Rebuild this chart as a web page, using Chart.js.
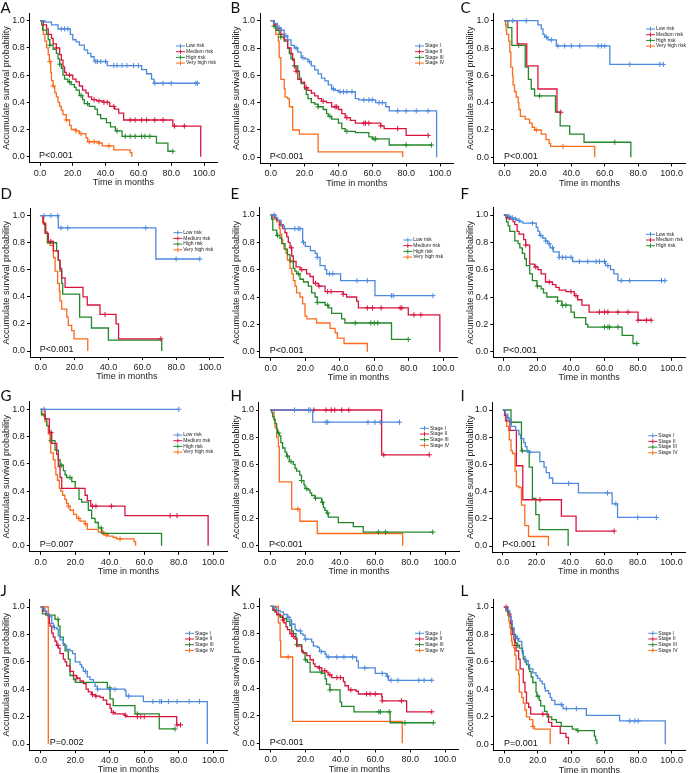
<!DOCTYPE html>
<html lang="en">
<head>
<meta charset="UTF-8">
<title>Kaplan-Meier survival curves</title>
<script src="https://cdn.jsdelivr.net/npm/chart.js@4"></script>
<style>
  body { margin: 0; background: #fff; }
  #wrap { position: relative; width: 690px; height: 773px; overflow: hidden; }
  #wrap canvas { position: absolute; left: 0; top: 0; }
</style>
</head>
<body>
<div id="wrap"></div>
<script>
// ticks shared by every panel
const timeTicks = [0, 20, 40, 60, 80, 100];
const survTicks = [0, 0.2, 0.4, 0.6, 0.8, 1.0];
const riskNames = ['Low risk', 'Medium risk', 'High risk', 'Very high risk'];
const stageNames = ['Stage I', 'Stage II', 'Stage III', 'Stage IV'];
const colors = ['#4d8ade', '#d8153f', '#23882a', '#fb6b1c'];

// each curve: [month, survival] step points, then censored months
const aLow = [[0,1],[3,0.99],[7,0.97],[11,0.94],[18.5,0.9],[20,0.86],[22,0.845],[24,0.82],[27,0.785],[29,0.76],[31,0.735],[33,0.70],[41,0.67],[62,0.64],[65,0.61],[68,0.57],[69.5,0.54],[97,0.54]];
const aLowCens = [13,15,17,34,35,37,40,45,47,50,53,57,60,70,75,80,95,96];
const aMed = [[0,1],[2,0.97],[4,0.94],[5,0.9],[7,0.87],[8,0.83],[10,0.80],[12,0.75],[13,0.71],[14,0.66],[15,0.62],[16,0.6],[20,0.57],[22,0.55],[24,0.52],[26,0.49],[28,0.47],[29.5,0.44],[31.5,0.42],[34.5,0.41],[38.5,0.40],[42.5,0.37],[45.5,0.35],[48,0.32],[51,0.27],[81,0.225],[98,0]];
const aMedCens = [10,18,33,36,39,41,45,55,58,62,65,70,75,82,88];
const aHigh = [[0,1],[1,0.97],[1.6,0.93],[4,0.9],[5,0.86],[6,0.82],[8,0.79],[10,0.76],[11,0.72],[12,0.68],[13,0.65],[14,0.60],[15,0.57],[17,0.55],[19,0.53],[21,0.51],[22,0.49],[24,0.45],[26,0.42],[27,0.39],[30,0.37],[33.5,0.35],[35,0.31],[37,0.28],[40.5,0.25],[43,0.22],[46,0.19],[50,0.15],[71,0.1],[78,0.04],[81,0.04]];
const aHighCens = [6,12,18,25,29,47,52,55,58,62,64,67,81];
const aVery = [[0,1],[1,0.97],[2,0.9],[3,0.85],[4,0.8],[5,0.75],[5.7,0.7],[6.5,0.62],[7,0.56],[8,0.52],[9,0.47],[10,0.44],[11,0.40],[12,0.37],[13,0.34],[14,0.31],[16,0.27],[18,0.23],[19,0.2],[22,0.19],[24,0.17],[28,0.14],[29,0.11],[36,0.1],[38,0.08],[45,0.05],[55,0.03],[56,0]];
const aVeryCens = [6,8,16,22,25,30,33,36,42];

const bI = [[0,1],[2,0.98],[4,0.95],[6,0.93],[8,0.89],[10,0.86],[12,0.82],[14,0.8],[16,0.77],[18,0.73],[20,0.72],[22,0.70],[24,0.67],[26,0.64],[28,0.61],[30,0.58],[32,0.56],[34,0.53],[36,0.5],[38,0.49],[40,0.48],[50,0.43],[52,0.42],[62,0.40],[68,0.37],[70,0.34],[98,0]];
const bICens = [5,9,15,19,23,37,41,43,45,48,55,58,60,64,66,75,80,86,93];
const bII = [[0,1],[2,0.97],[4,0.94],[6,0.9],[8,0.86],[10,0.8],[12,0.76],[13,0.71],[14,0.66],[15,0.63],[16,0.57],[18,0.55],[20,0.51],[22,0.49],[24,0.47],[26,0.45],[28,0.43],[30,0.41],[33,0.40],[36,0.37],[40,0.35],[42,0.32],[44,0.29],[47,0.27],[50,0.25],[65,0.23],[67,0.21],[80,0.16],[93,0.16]];
const bIICens = [15,21,31,38,39,45,55,56,58,65,75,93];
const bIII = [[0,1],[2,0.96],[3,0.93],[5,0.9],[6,0.88],[8,0.85],[10,0.80],[11,0.76],[12,0.72],[14,0.67],[16,0.63],[17,0.58],[18,0.54],[20,0.5],[21,0.46],[22,0.43],[24,0.40],[26,0.39],[28,0.37],[31,0.35],[33,0.32],[34,0.30],[36,0.28],[40,0.25],[42,0.21],[44,0.19],[50,0.18],[58,0.15],[60,0.135],[70,0.09],[95,0.09]];
const bIIICens = [2,6,14,28,35,45,61,62,80,95];
const bIV = [[0,1],[2,0.96],[3,0.9],[4.5,0.85],[5,0.73],[6,0.57],[8,0.5],[8.5,0.44],[10,0.43],[11,0.37],[13,0.2],[17,0.17],[28,0.04],[78,0]];
const bIVCens = [];

const cLow = [[0,1],[20,0.97],[22,0.94],[23,0.9],[24,0.88],[26,0.86],[31,0.815],[63,0.68],[95,0.68]];
const cLowCens = [5,13,25,28,32,36,40,45,56,58,60,75,93,95];
const cMed = [[0,1],[7.6,0.83],[13.3,0.67],[20,0.5],[31.4,0.33],[33.7,0.33]];
const cMedCens = [33.7];
const cHigh = [[0,1],[2,0.95],[4.4,0.82],[12.4,0.66],[14.3,0.57],[16,0.5],[18,0.45],[30.5,0.33],[33.3,0.23],[39,0.17],[47.6,0.11],[75.6,0]];
const cHighCens = [8.5,21,66];
const cVery = [[0,1],[0.6,0.97],[1,0.93],[1.3,0.9],[2.5,0.85],[3.2,0.77],[3.8,0.66],[4.8,0.6],[5.1,0.53],[6,0.48],[7,0.44],[8.2,0.40],[8.6,0.35],[9.5,0.3],[12.4,0.28],[15,0.25],[16.6,0.22],[18,0.2],[22,0.17],[24.8,0.13],[26.7,0.1],[27.6,0.08],[54,0]];
const cVeryCens = [19,35];

const dLow = [[0,1],[10.4,0.91],[68,0.68],[94,0.68]];
const dLowCens = [2,6,10,12,16,62,80,94];
const dMed = [[0,1],[1.6,0.94],[3,0.87],[4.5,0.81],[7.5,0.74],[10.4,0.67],[11.4,0.61],[12.4,0.54],[14.4,0.47],[25,0.40],[27.5,0.34],[35,0.27],[44.5,0.20],[46,0.09],[71,0.09]];
const dMedCens = [6,38,71];
const dHigh = [[0,1],[1.6,0.94],[2.6,0.87],[4,0.8],[9.4,0.74],[10.4,0.67],[11.4,0.59],[12.4,0.5],[13,0.42],[23,0.25],[30,0.17],[40,0.08],[71.5,0]];
const dHighCens = [];
const dVery = [[0,1],[1.2,0.95],[2.6,0.88],[4,0.8],[5.5,0.78],[7.5,0.69],[8.5,0.59],[10,0.5],[11,0.44],[11.4,0.37],[12.4,0.31],[15.4,0.25],[16.3,0.19],[18.3,0.15],[19.7,0.09],[27.8,0]];
const dVeryCens = [];

const eLow = [[0,1],[3,0.98],[4,0.96],[6,0.92],[8,0.9],[18.5,0.8],[20,0.77],[23,0.74],[25.7,0.72],[27,0.69],[28.6,0.63],[31.5,0.6],[32.4,0.57],[40.5,0.52],[60.4,0.41],[94,0.41]];
const eLowCens = [2,14,16,17,19,27,34,36,50,56,70,71,94];
const eMed = [[0,1],[2,0.98],[3.5,0.96],[5.4,0.93],[7,0.9],[8.3,0.87],[9.3,0.84],[10.2,0.8],[11.2,0.76],[12.2,0.7],[13.1,0.66],[14.7,0.62],[17,0.6],[20.8,0.57],[22.8,0.55],[24.7,0.5],[27.6,0.48],[31.5,0.44],[42,0.42],[44,0.4],[49.8,0.37],[50.8,0.32],[79.7,0.27],[98,0]];
const eMedCens = [6,12,18,26,28,33,35,42,56,59,64,75,76,83,87];
const eHigh = [[0,1],[0.5,0.97],[1.2,0.89],[3.5,0.85],[5.4,0.83],[6.4,0.79],[8.3,0.75],[9.7,0.71],[11.2,0.66],[13.1,0.61],[14,0.59],[15,0.57],[17,0.53],[19,0.51],[21.8,0.48],[23.7,0.43],[25.7,0.40],[27,0.36],[31.5,0.34],[33.4,0.32],[35.3,0.28],[41.1,0.24],[43,0.21],[70,0.09],[79.7,0.09]];
const eHighCens = [4,16,27,33,49,58,60,62,79.7];
const eVery = [[0,1],[1,0.97],[3.5,0.95],[5,0.9],[5.5,0.86],[6.4,0.82],[7,0.79],[7.7,0.75],[8.9,0.72],[9.7,0.67],[11.2,0.61],[12.2,0.57],[13.1,0.52],[14.1,0.48],[15,0.43],[17,0.4],[18.5,0.35],[19.9,0.26],[21,0.24],[26.6,0.21],[34.4,0.17],[37.3,0.14],[38.6,0.1],[42.5,0.06],[56,0]];
const eVeryCens = [11];

const fLow = [[0,1],[2,0.99],[4,0.98],[5.5,0.97],[7.5,0.96],[9.4,0.95],[11.4,0.94],[19.3,0.91],[20.3,0.88],[21.3,0.85],[23.2,0.83],[24.8,0.81],[26.2,0.79],[27.6,0.76],[29.5,0.73],[33,0.69],[41,0.66],[60.6,0.63],[63.6,0.6],[65.6,0.57],[68,0.52],[96,0.52]];
const fLowCens = [3,5,7,9,17,22,25,27,29,33,35,37,40,45,50,55,57,60,62,70,75,94,96];
const fMed = [[0,1],[1.6,0.98],[3.5,0.97],[5.5,0.95],[6.5,0.93],[7.9,0.88],[9,0.86],[11.8,0.82],[13,0.78],[15.4,0.64],[18.3,0.62],[20.3,0.6],[22.2,0.57],[24.8,0.51],[29,0.49],[31,0.47],[33,0.45],[37,0.44],[42,0.41],[44,0.38],[46.5,0.34],[50.8,0.29],[80,0.23],[87.8,0.23]];
const fMedCens = [3,13,19,27,40,43,57,60,62,68,74,80,85,87.8];
const fHigh = [[0,1],[1.2,0.98],[1.6,0.95],[2.5,0.92],[3.5,0.88],[6.5,0.81],[8.5,0.79],[9.5,0.76],[11,0.72],[12.4,0.68],[13.4,0.63],[15.4,0.57],[17,0.52],[19.7,0.48],[22.2,0.46],[23.6,0.43],[25.6,0.40],[32,0.37],[34.6,0.34],[40,0.29],[42,0.25],[48.8,0.2],[50,0.18],[70.5,0.12],[77,0.06],[79.3,0.06]];
const fHighCens = [20,32,35,37,60,62,63,68,79.3];

const gLow = [[0,1],[80,1]];
const gLowCens = [2,80];
const gMed = [[0,1],[2.5,0.93],[5,0.83],[6.4,0.75],[9.3,0.67],[10.2,0.58],[11.2,0.5],[12.2,0.42],[25.7,0.37],[27,0.33],[29,0.29],[48.8,0.22],[97,0]];
const gMedCens = [6,30,32,41,75,79];
const gHigh = [[0,1],[0.5,0.96],[2.5,0.93],[3.5,0.88],[5,0.83],[6,0.77],[8.3,0.70],[10.2,0.63],[11.2,0.59],[13.1,0.55],[14.1,0.52],[15,0.5],[18,0.47],[20,0.42],[22.2,0.34],[23.7,0.32],[27.6,0.26],[29.5,0.2],[31.5,0.17],[33.4,0.13],[35.3,0.09],[70,0]];
const gHighCens = [6,12,17,35];
const gVery = [[0,1],[0.5,0.97],[1.5,0.95],[2.5,0.91],[3.5,0.88],[4.4,0.82],[5.4,0.76],[5.8,0.68],[7.3,0.63],[8.3,0.57],[8.8,0.52],[9.7,0.48],[10.8,0.42],[11.6,0.40],[12.7,0.37],[14,0.34],[15,0.31],[16,0.29],[17,0.26],[19,0.23],[20.8,0.2],[22.8,0.18],[25.7,0.16],[27,0.12],[33.4,0.10],[36.3,0.08],[39,0.07],[42,0.06],[44,0.05],[54,0.03],[55,0]];
const gVeryCens = [16,22,26,36,38,46];

const hI = [[0,1],[24.4,0.91],[74,0.91]];
const hICens = [14,22,23,32,33,56,60,63,74];
const hII = [[0,1],[63.8,0.67],[91,0.67]];
const hIICens = [25,32,35,37,41,45,65,91];
const hIII = [[0,1],[1,0.98],[1.5,0.95],[2.3,0.93],[2.9,0.9],[3.8,0.86],[4.3,0.83],[5.3,0.81],[6.2,0.76],[7.2,0.72],[8.6,0.69],[9.5,0.66],[11,0.62],[13.3,0.6],[14.3,0.57],[15.2,0.55],[17,0.52],[18,0.48],[19.4,0.45],[20,0.42],[21.9,0.41],[22.9,0.39],[23.8,0.37],[25.7,0.35],[29.5,0.32],[30.5,0.28],[31.4,0.26],[32.4,0.24],[33.3,0.21],[39,0.17],[47.6,0.14],[53.3,0.1],[93,0.1]];
const hIIICens = [5,10,12,18,21,26,30,33,62,66,93];
const hIV = [[0,1],[2.3,0.93],[2.9,0.87],[3.8,0.8],[4.8,0.73],[5.3,0.47],[12.4,0.27],[17.1,0.18],[27,0.09],[75.8,0]];
const hIVCens = [16];

const iI = [[0,1],[1.5,0.97],[2.9,0.94],[3.8,0.92],[4.8,0.88],[7.6,0.85],[9.5,0.82],[10.5,0.79],[12.4,0.76],[13.3,0.73],[14.3,0.69],[21.9,0.62],[24.4,0.58],[25.7,0.54],[27.6,0.5],[29.5,0.46],[44.8,0.39],[64.8,0.31],[68,0.21],[91,0.21]];
const iICens = [3,16,39,62,67,80,91];
const iII = [[0,1],[1,0.96],[1.9,0.92],[4.2,0.85],[8,0.59],[11.8,0.34],[34.7,0.22],[43.4,0.11],[66,0.11]];
const iIICens = [22,66];
const iIII = [[0,1],[4.8,0.91],[11,0.7],[15.6,0.58],[17.5,0.35],[19.5,0.23],[21.5,0.12],[38.7,0]];
const iIIICens = [5,11.5];
const iIV = [[0,1],[1,0.96],[1.5,0.92],[2.3,0.88],[3.4,0.85],[3.8,0.78],[4.8,0.70],[5.7,0.68],[7.2,0.55],[8,0.44],[9.5,0.43],[11,0.3],[13,0.15],[15.2,0.07],[27,0]];
const iIVCens = [];

const jI = [[0,1],[1,0.99],[2.5,0.97],[3.5,0.95],[5,0.93],[6.4,0.88],[7.3,0.85],[9.3,0.84],[10.2,0.79],[11.2,0.76],[13.1,0.72],[15,0.69],[17,0.68],[18.5,0.66],[20,0.6],[22.8,0.58],[23.7,0.56],[24.7,0.53],[27,0.49],[28.6,0.47],[30.5,0.45],[31.5,0.42],[32.8,0.4],[48.8,0.39],[49.4,0.35],[59.5,0.31],[96.5,0]];
const jICens = [8,26,33,40,43,51,65,69,70,74,79,86,92];
const jII = [[0,1],[1.5,0.97],[3,0.95],[4.4,0.93],[5,0.88],[5.4,0.86],[6.4,0.81],[7.3,0.78],[8.3,0.75],[9.3,0.72],[10.2,0.7],[11.2,0.66],[13.1,0.62],[14.1,0.6],[15,0.57],[17,0.53],[19,0.5],[20.8,0.48],[22.8,0.46],[24.7,0.44],[26.3,0.4],[27.6,0.38],[29.5,0.36],[31.5,0.35],[34.4,0.34],[36.3,0.32],[38.2,0.29],[40.2,0.26],[41,0.23],[43,0.22],[48.8,0.21],[49.4,0.2],[78.8,0.14],[81,0.14]];
const jIICens = [10,21,30,32,42,49,56,58,60,79,81];
const jIII = [[0,1],[1,0.95],[3,0.94],[8.3,0.91],[10.2,0.86],[11.2,0.78],[13.1,0.73],[14.1,0.68],[16,0.62],[17,0.5],[19,0.47],[20,0.45],[38.6,0.41],[40.2,0.33],[42,0.28],[54.6,0.22],[68.7,0.11],[77.8,0.11]];
const jIIICens = [10,40,56,77.8];
const jIV = [[0,1],[4.4,0]];
const jIVCens = [];

const kI = [[0,1],[1.5,0.99],[3.4,0.97],[5.4,0.96],[7.3,0.94],[9.6,0.92],[11,0.9],[12,0.87],[14,0.83],[15,0.82],[17.2,0.8],[18.4,0.79],[19.7,0.76],[23.5,0.74],[24.5,0.71],[26.8,0.7],[28,0.67],[31.2,0.65],[32,0.63],[49.3,0.6],[50.3,0.55],[60,0.51],[66.5,0.49],[67.5,0.46],[92.4,0.46]];
const kICens = [10,12,17,20,29,33,38,42,47,54,64,67,69,73,85,88,92.4];
const kII = [[0,1],[1.5,0.98],[2.5,0.96],[3.4,0.94],[5.4,0.93],[6.9,0.9],[7.6,0.88],[8.8,0.85],[9.6,0.83],[11,0.8],[13,0.78],[14,0.76],[15,0.71],[17.8,0.67],[18.7,0.66],[20.7,0.64],[22.6,0.61],[24.5,0.58],[25.4,0.56],[27.3,0.55],[29.3,0.53],[32,0.52],[33,0.5],[35,0.48],[41.7,0.45],[42.6,0.42],[44.6,0.39],[49,0.38],[50.3,0.36],[63.7,0.34],[64,0.31],[78,0.23],[92.4,0.23]];
const kIICens = [7,12,13,28,31,34,38,40,46,55,57,60,64,75,92.4];
const kIII = [[0,1],[1.2,0.97],[2.5,0.96],[3.4,0.94],[5.4,0.92],[7.3,0.91],[9.2,0.89],[11,0.86],[12,0.82],[13,0.8],[14.5,0.77],[15,0.72],[17.8,0.68],[18.4,0.66],[19.7,0.61],[21,0.59],[22.6,0.52],[29.3,0.51],[31.2,0.47],[32,0.43],[34,0.39],[39.8,0.3],[40.7,0.27],[47.8,0.23],[68.5,0.15],[93.3,0.15]];
const kIIICens = [15,20,29,34,62,63,68,77,93.3];
const kIV = [[0,1],[4.4,0.88],[5.4,0.75],[5.7,0.63],[12.6,0.16],[75.5,0]];
const kIVCens = [10];

const lI = [[0,1],[1,0.98],[2.5,0.97],[3.2,0.93],[3.8,0.9],[4.7,0.85],[5.7,0.79],[7.5,0.77],[8.5,0.75],[10.4,0.68],[11.3,0.64],[12.3,0.61],[14.2,0.58],[15.1,0.55],[17,0.52],[18.9,0.5],[19.8,0.48],[21.3,0.46],[22.6,0.44],[24,0.41],[24.5,0.39],[26.4,0.37],[27.4,0.34],[28.3,0.32],[30.2,0.29],[35,0.26],[49,0.21],[68.9,0.17],[96.2,0]];
const lICens = [8,13,34,37,43,75,78,80];
const lII = [[0,1],[1.9,0.97],[2.8,0.95],[3.8,0.88],[4.7,0.8],[5.7,0.76],[6.2,0.72],[7,0.68],[8.5,0.62],[9.4,0.55],[11.3,0.45],[12.3,0.38],[13.2,0.3],[14.5,0.27],[15.7,0.22],[26.4,0.16],[28.3,0.13],[33.4,0.08],[36.8,0.05],[38.3,0]];
const lIICens = [1,23];
const lIII = [[0,1],[1,0.98],[1.9,0.96],[2.8,0.93],[3.8,0.88],[4.3,0.84],[5.7,0.8],[6.6,0.74],[7.5,0.72],[8.9,0.7],[10.8,0.66],[11.3,0.62],[12.3,0.6],[13.2,0.58],[14.5,0.55],[15.1,0.53],[16,0.49],[17,0.45],[18.9,0.38],[19.4,0.35],[20.8,0.32],[21.7,0.28],[24,0.24],[25.5,0.2],[28.3,0.18],[31.1,0.16],[34,0.13],[40.6,0.11],[43.4,0.1],[53.8,0.06],[54.5,0.03],[55.3,0]];
const lIIICens = [8,20,44];
const lIV = [[0,1],[1,0.97],[2,0.94],[2.6,0.9],[3.2,0.85],[3.8,0.8],[4.3,0.75],[4.7,0.72],[5.7,0.7],[6.2,0.65],[7,0.54],[8.5,0.51],[8.9,0.38],[10.4,0.34],[11.3,0.3],[12.3,0.25],[13.2,0.2],[15.1,0.18],[17,0.13],[17.9,0.11],[27.4,0]];
const lIVCens = [17];

// panel layout: page pixel of month 0 / 100 and survival 1 / 0, legend corner, y title x
const panels = [
  { id: 'A', names: riskNames, p: 'P<0.001', curves: [[aLow, aLowCens], [aMed, aMedCens], [aHigh, aHighCens], [aVery, aVeryCens]], x0: 40, x100: 204, y1: 20.7, y0: 156.7, lx: 176, ly: 46, ty: 13 },
  { id: 'B', names: stageNames, p: 'P<0.001', curves: [[bI, bICens], [bII, bIICens], [bIII, bIIICens], [bIV, bIVCens]], x0: 270.7, x100: 440, y1: 20.7, y0: 157.3, lx: 415, ly: 46, ty: 13 },
  { id: 'C', names: riskNames, p: 'P<0.001', curves: [[cLow, cLowCens], [cMed, cMedCens], [cHigh, cHighCens], [cVery, cVeryCens]], x0: 505, x100: 680, y1: 20.7, y0: 157.3, lx: 646, ly: 29, ty: 13 },
  { id: 'D', names: riskNames, p: 'P<0.001', curves: [[dLow, dLowCens], [dMed, dMedCens], [dHigh, dHighCens], [dVery, dVeryCens]], x0: 40.7, x100: 210, y1: 215.7, y0: 351, lx: 173.3, ly: 232.7, ty: 198.5 },
  { id: 'E', names: riskNames, p: 'P<0.001', curves: [[eLow, eLowCens], [eMed, eMedCens], [eHigh, eHighCens], [eVery, eVeryCens]], x0: 270.7, x100: 443.3, y1: 215, y0: 351.7, lx: 403.3, ly: 240, ty: 198.5 },
  { id: 'F', names: riskNames.slice(0, 3), p: 'P<0.001', curves: [[fLow, fLowCens], [fMed, fMedCens], [fHigh, fHighCens]], x0: 504, x100: 673.3, y1: 215, y0: 351.7, lx: 646, ly: 234.3, ty: 198.5 },
  { id: 'G', names: riskNames, p: 'P=0.007', curves: [[gLow, gLowCens], [gMed, gMedCens], [gHigh, gHighCens], [gVery, gVeryCens]], x0: 40.7, x100: 213.3, y1: 409.3, y0: 545.7, lx: 173.3, ly: 435, ty: 401 },
  { id: 'H', names: stageNames, p: 'P<0.001', curves: [[hI, hICens], [hII, hIICens], [hIII, hIIICens], [hIV, hIVCens]], x0: 270, x100: 445, y1: 410, y0: 545.7, lx: 420, ly: 428.3, ty: 401 },
  { id: 'I', names: stageNames, p: 'P<0.001', curves: [[iI, iICens], [iII, iIICens], [iIII, iIIICens], [iIV, iIVCens]], x0: 503.3, x100: 678.3, y1: 410, y0: 546, lx: 648.3, ly: 435.7, ty: 401 },
  { id: 'J', names: stageNames, p: 'P=0.002', curves: [[jI, jICens], [jII, jIICens], [jIII, jIIICens], [jIV, jIVCens]], x0: 40.7, x100: 213.3, y1: 607, y0: 744, lx: 185, ly: 633.3, ty: 596, pShift: 10 },
  { id: 'K', names: stageNames, p: 'P<0.001', curves: [[kI, kICens], [kII, kIICens], [kIII, kIIICens], [kIV, kIVCens]], x0: 270.7, x100: 445, y1: 606.3, y0: 743.3, lx: 415, ly: 633.3, ty: 596 },
  { id: 'L', names: stageNames, p: 'P=0.001', curves: [[lI, lICens], [lII, lIICens], [lIII, lIIICens], [lIV, lIVCens]], x0: 505, x100: 681.7, y1: 607, y0: 744.3, lx: 648.3, ly: 633.3, ty: 596 }
];
const titleXs = [6.5, 236.5, 471];

const X_MIN = -6.3, X_MAX = 108, Y_MIN = -0.045, Y_MAX = 1.055;
const W = 690, H = 773;
const FONT = '"Liberation Sans", Arial, sans-serif';

function survAt (steps, t) {
  let s = steps[0][1];
  for (const [x, y] of steps) {
    if (x <= t) s = y; else break;
  }
  return s;
}

const wrap = document.getElementById('wrap');

panels.forEach((p, n) => {
  const col = n % 3;
  const canvas = document.createElement('canvas');
  canvas.width = W;
  canvas.height = H;
  wrap.appendChild(canvas);

  // chart area from the tick pixel positions
  const k = (p.x100 - p.x0) / 100;
  const m = p.y0 - p.y1;
  const left = p.x0 + X_MIN * k;
  const right = Math.min(p.x0 + X_MAX * k, 687);
  const top = p.y1 - (Y_MAX - 1) * m;
  const bottom = p.y0 - Y_MIN * m;
  const yScaleLeft = titleXs[col] - 5.4;
  const xScaleH = 25;

  const datasets = [];
  p.curves.forEach(([steps, cens], i) => {
    datasets.push({
      data: steps.map(([x, y]) => ({ x, y })),
      showLine: true,
      stepped: true,
      borderColor: colors[i],
      borderWidth: 1.3,
      pointRadius: 0
    });
    datasets.push({
      data: cens.map(t => ({ x: t, y: survAt(steps, t) })),
      showLine: false,
      pointStyle: 'cross',
      pointRadius: 2.6,
      borderColor: colors[i],
      borderWidth: 1
    });
  });

  // panel letter, p value and the small legend
  const extras = {
    id: 'extras' + p.id,
    afterDraw (chart) {
      const ctx = chart.ctx;
      ctx.save();
      ctx.fillStyle = '#111';
      ctx.textBaseline = 'alphabetic';
      ctx.font = '15px Lato, sans-serif';
      ctx.fillText(p.id, col * 230 + 0.5, p.ty);
      ctx.font = '9px ' + FONT;
      ctx.textBaseline = 'middle';
      ctx.fillText(p.p, p.x0 - 1 + (p.pShift || 0), p.y0 - 1);
      ctx.font = '5px ' + FONT;
      p.names.forEach((name, i) => {
        const y = p.ly + i * 5.7;
        ctx.strokeStyle = colors[i];
        ctx.lineWidth = 1;
        ctx.beginPath();
        ctx.moveTo(p.lx, y);
        ctx.lineTo(p.lx + 9, y);
        ctx.moveTo(p.lx + 4.5, y - 2.2);
        ctx.lineTo(p.lx + 4.5, y + 2.2);
        ctx.stroke();
        ctx.fillStyle = '#222';
        ctx.fillText(name, p.lx + 10, y);
      });
      ctx.restore();
    }
  };

  new Chart(canvas, {
    type: 'scatter',
    data: { datasets },
    plugins: [extras],
    options: {
      responsive: false,
      animation: false,
      events: [],
      layout: {
        padding: { left: yScaleLeft, top: top, right: W - right, bottom: H - bottom - xScaleH }
      },
      plugins: { legend: { display: false }, tooltip: { enabled: false } },
      scales: {
        x: {
          type: 'linear',
          min: X_MIN,
          max: X_MAX,
          afterBuildTicks: s => { s.ticks = timeTicks.map(v => ({ value: v })); },
          afterFit: s => { s.height = xScaleH; },
          grid: { drawOnChartArea: false, drawTicks: true, tickLength: 3, color: '#000' },
          border: { display: true, color: '#000', width: 1 },
          ticks: { callback: v => v.toFixed(1), font: { size: 9, family: FONT }, color: '#222', padding: 2, maxRotation: 0, autoSkip: false },
          title: { display: true, text: 'Time in months', font: { size: 9, family: FONT }, color: '#222', padding: 0 }
        },
        y: {
          type: 'linear',
          min: Y_MIN,
          max: Y_MAX,
          afterBuildTicks: s => { s.ticks = survTicks.map(v => ({ value: v })); },
          afterFit: s => { s.width = left - yScaleLeft; },
          grid: { drawOnChartArea: false, drawTicks: true, tickLength: 3, color: '#000' },
          border: { display: true, color: '#000', width: 1 },
          ticks: { callback: v => v.toFixed(1), font: { size: 9, family: FONT }, color: '#222', padding: 2, autoSkip: false },
          title: { display: true, text: 'Accumulate survival probability', font: { size: 9, family: FONT }, color: '#222', padding: 0 }
        }
      }
    }
  });
});
</script>
</body>
</html>
